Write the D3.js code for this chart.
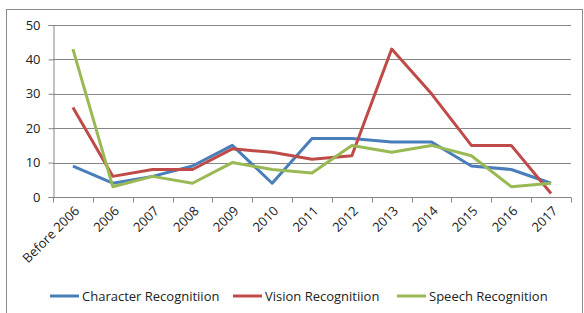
<!DOCTYPE html>
<html>
<head>
<meta charset="utf-8">
<script src="https://cdn.jsdelivr.net/npm/d3@7"></script>
<style>
  html, body { margin: 0; padding: 0; background: #fff; }
  svg { display: block; font-family: "Open Sans", "Liberation Sans", sans-serif; }
</style>
</head>
<body>
<div id="chart"></div>
<script>
// categories and series
const categories = ['Before 2006', '2006', '2007', '2008', '2009', '2010', '2011', '2012', '2013', '2014', '2015', '2016', '2017'];
const characterValues = [9, 4, 6, 9, 15, 4, 17, 17, 16, 16, 9, 8, 4];
const visionValues = [26, 6, 8, 8, 14, 13, 11, 12, 43, 30, 15, 15, 1];
const speechValues = [43, 3, 6, 4, 10, 8, 7, 15, 13, 15, 12, 3, 4];
const yTicks = [0, 10, 20, 30, 40, 50];

const series = [
  { name: 'Character Recognitiion', values: characterValues, color: '#4a7ebb' },
  { name: 'Vision Recognitiion', values: visionValues, color: '#be4b48' },
  { name: 'Speech Recognition', values: speechValues, color: '#98b954' }
];

const width = 584, height = 313;
const plot = { left: 53, right: 571, top: 25, bottom: 197 };

const svg = d3.select('#chart').append('svg')
  .attr('width', width)
  .attr('height', height);

// outer chart frame
svg.append('rect')
  .attr('x', 6.5).attr('y', 9.5)
  .attr('width', 576).attr('height', 320)
  .attr('fill', '#fff')
  .attr('stroke', '#8c8c8c')
  .attr('stroke-width', 1);

const x = d3.scaleBand().domain(categories).range([plot.left, plot.right]);
const y = d3.scaleLinear().domain([0, 50]).range([plot.bottom, plot.top]);

// gridlines
svg.append('g')
  .selectAll('line')
  .data(yTicks.filter(d => d > 0))
  .join('line')
  .attr('x1', plot.left).attr('x2', plot.right)
  .attr('y1', d => Math.round(y(d)) + 0.5)
  .attr('y2', d => Math.round(y(d)) + 0.5)
  .attr('stroke', '#868686')
  .attr('stroke-width', 1);

// y axis
const yAxis = svg.append('g')
  .attr('transform', `translate(${plot.left + 0.5},0)`)
  .call(d3.axisLeft(y).tickValues(yTicks).tickSize(5).tickPadding(8));
yAxis.select('.domain').attr('stroke', '#868686');
yAxis.selectAll('.tick line').attr('stroke', '#868686');
yAxis.selectAll('.tick text')
  .attr('fill', '#222')
  .style('font-size', '13px')
  .style('font-family', '"Open Sans", sans-serif');

// x axis: ticks at band boundaries like Excel
const xAxisG = svg.append('g')
  .attr('transform', `translate(0,${Math.round(plot.bottom) + 0.5})`);
xAxisG.append('line')
  .attr('x1', plot.left).attr('x2', plot.right)
  .attr('stroke', '#868686');
const bounds = categories.map(c => x(c)).concat([plot.right]);
xAxisG.selectAll('line.tk')
  .data(bounds)
  .join('line')
  .attr('class', 'tk')
  .attr('x1', d => Math.round(d) + 0.5).attr('x2', d => Math.round(d) + 0.5)
  .attr('y1', 0).attr('y2', 5)
  .attr('stroke', '#868686');
xAxisG.selectAll('text')
  .data(categories)
  .join('text')
  .attr('transform', d => `translate(${x(d) + x.bandwidth() / 2 + 4},${11}) rotate(-45)`)
  .attr('text-anchor', 'end')
  .attr('dy', '0.35em')
  .attr('fill', '#222')
  .style('font-size', '13px')
  .text(d => d);

// lines
const line = d3.line()
  .x((d, i) => x(categories[i]) + x.bandwidth() / 2)
  .y(d => y(d));

svg.append('g')
  .selectAll('path')
  .data(series)
  .join('path')
  .attr('d', d => line(d.values))
  .attr('fill', 'none')
  .attr('stroke', d => d.color)
  .attr('stroke-width', 3)
  .attr('stroke-linejoin', 'round');

// legend
const legendX = [50, 233, 397];
const legend = svg.append('g')
  .selectAll('g')
  .data(series)
  .join('g')
  .attr('transform', (d, i) => `translate(${legendX[i]},296)`);
legend.append('line')
  .attr('x1', 0).attr('x2', 29)
  .attr('stroke', d => d.color)
  .attr('stroke-width', 3);
legend.append('text')
  .attr('x', 32)
  .attr('dy', '0.35em')
  .attr('fill', '#222')
  .style('font-size', '13px')
  .text(d => d.name);
</script>
</body>
</html>
